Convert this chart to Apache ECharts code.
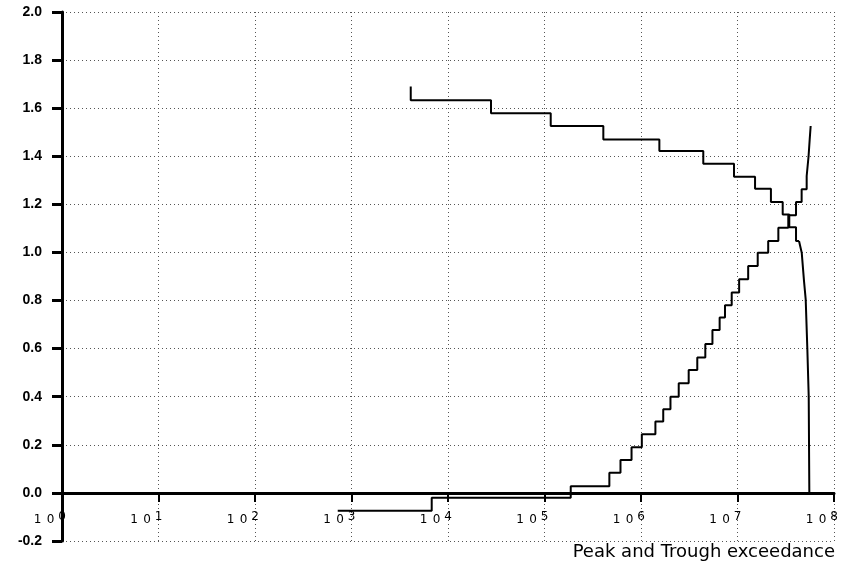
<!DOCTYPE html>
<html>
<head>
<meta charset="utf-8">
<script src="https://cdn.jsdelivr.net/npm/echarts@6/dist/echarts.min.js"></script>
<style>
  html, body { margin: 0; padding: 0; background: #fff; }
  #chart { width: 841px; height: 565px; }
</style>
</head>
<body>
<div id="chart"></div>
<script>
// Peak curve staircase: each level runs left to right up to its exceedance count
const peakCounts = [4110, 27900, 1.16e5, 4.07e5, 1.55e6, 4.42e6, 9.2e6, 1.52e7, 2.22e7, 2.94e7, 3.44e7, 4.04e7, 4.34e7];
const peakLevels = [1.69, 1.633, 1.579, 1.526, 1.47, 1.422, 1.369, 1.315, 1.265, 1.21, 1.158, 1.105, 1.048];
// Peak curve: steep fall-off at the highest exceedance counts
const peakTailCounts = [4.34e7, 4.63e7, 4.89e7, 5.09e7, 5.29e7, 5.47e7, 5.55e7];
const peakTailLevels = [1.048, 0.999, 0.881, 0.805, 0.603, 0.402, 0.0];

// Trough curve staircase: each level starts at its exceedance count
const troughCounts = [720, 6780, 1.87e5, 4.7e5, 6.13e5, 7.98e5, 1.02e6, 1.41e6, 1.70e6, 2.02e6,
  2.46e6, 3.12e6, 3.83e6, 4.64e6, 5.5e6, 6.53e6, 7.42e6, 8.71e6, 1.04e7, 1.29e7,
  1.62e7, 2.08e7, 2.65e7, 3.36e7, 4.04e7, 4.62e7, 5.21e7];
const troughLevels = [-0.074, -0.02, 0.028, 0.084, 0.137, 0.19, 0.244, 0.297, 0.348, 0.40,
  0.456, 0.511, 0.563, 0.619, 0.677, 0.73, 0.78, 0.833, 0.889, 0.944,
  0.999, 1.048, 1.103, 1.155, 1.21, 1.263, 1.318];
// Trough curve: steep rise at the highest exceedance counts
const troughTailCounts = [5.21e7, 5.45e7, 5.6e7, 5.73e7];
const troughTailLevels = [1.318, 1.40, 1.47, 1.526];

// Axis ranges and tick spacing
const xRange = [1, 1e8];
const yRange = [-0.2, 2.0];
const yStep = 0.2;
const axisTitle = 'Peak and Trough exceedance';

// Plot area inside the 841 x 565 canvas
const W = 841, H = 565;
const gridBox = { left: 62, right: 7, top: 12, bottom: 24 };
const plotH = H - gridBox.top - gridBox.bottom;
// The x axis sits on the zero line: shift it up from the bottom edge of the grid
const zeroShift = -plotH * (0 - yRange[0]) / (yRange[1] - yRange[0]);

const zip = (xs, ys) => xs.map((x, i) => [x, ys[i]]);

const lineStyle = { color: '#000', width: 2 };
const gridDots = { color: '#555', width: 1, type: [1, 3] };

const chart = echarts.init(document.getElementById('chart'), null, { renderer: 'canvas', width: W, height: H });

chart.setOption({
  animation: false,
  backgroundColor: '#fff',
  title: {
    text: axisTitle,
    right: 6,
    bottom: 4,
    padding: 0,
    textStyle: { fontFamily: 'DejaVu Sans', fontSize: 18, fontWeight: 'normal', color: '#000' }
  },
  grid: Object.assign({ outerBoundsMode: 'none', containLabel: false }, gridBox),
  xAxis: {
    type: 'log',
    logBase: 10,
    min: xRange[0],
    max: xRange[1],
    interval: 1,
    splitNumber: 8,
    position: 'bottom',
    offset: zeroShift,
    axisLine: { show: true, onZero: false, lineStyle: { color: '#000', width: 3 } },
    axisTick: { show: true, length: 9, lineStyle: { color: '#000', width: 2 } },
    axisLabel: {
      showMinLabel: true,
      showMaxLabel: true,
      hideOverlap: false,
      margin: 18,
      color: '#000',
      formatter: v => '{d|1}{d|0}{s|' + Math.round(Math.log10(v)) + '}{p| }',
      rich: {
        d: { fontFamily: 'DejaVu Sans', fontSize: 12, width: 13, align: 'center', verticalAlign: 'bottom', color: '#000' },
        s: { fontFamily: 'DejaVu Sans', fontSize: 12, width: 10, align: 'center', verticalAlign: 'bottom', padding: [0, 0, 3, 0], color: '#000' },
        p: { fontSize: 12, width: 26 }
      }
    },
    splitLine: { show: true, lineStyle: gridDots }
  },
  yAxis: {
    type: 'value',
    min: yRange[0],
    max: yRange[1],
    interval: yStep,
    axisLine: { show: true, onZero: false, lineStyle: { color: '#000', width: 3 } },
    axisTick: { show: true, length: 10, lineStyle: { color: '#000', width: 3 } },
    axisLabel: {
      margin: 20,
      color: '#000',
      fontFamily: 'Liberation Sans',
      fontSize: 14,
      fontWeight: 'bold',
      formatter: v => v.toFixed(1)
    },
    splitLine: { show: true, lineStyle: gridDots }
  },
  series: [
    { name: 'Peak', type: 'line', step: 'start', data: zip(peakCounts, peakLevels),
      showSymbol: false, lineStyle, silent: true },
    { name: 'Peak tail', type: 'line', data: zip(peakTailCounts, peakTailLevels),
      showSymbol: false, lineStyle, silent: true },
    { name: 'Trough', type: 'line', step: 'end', data: zip(troughCounts, troughLevels),
      showSymbol: false, lineStyle, silent: true },
    { name: 'Trough tail', type: 'line', data: zip(troughTailCounts, troughTailLevels),
      showSymbol: false, lineStyle, silent: true }
  ]
});
</script>
</body>
</html>
